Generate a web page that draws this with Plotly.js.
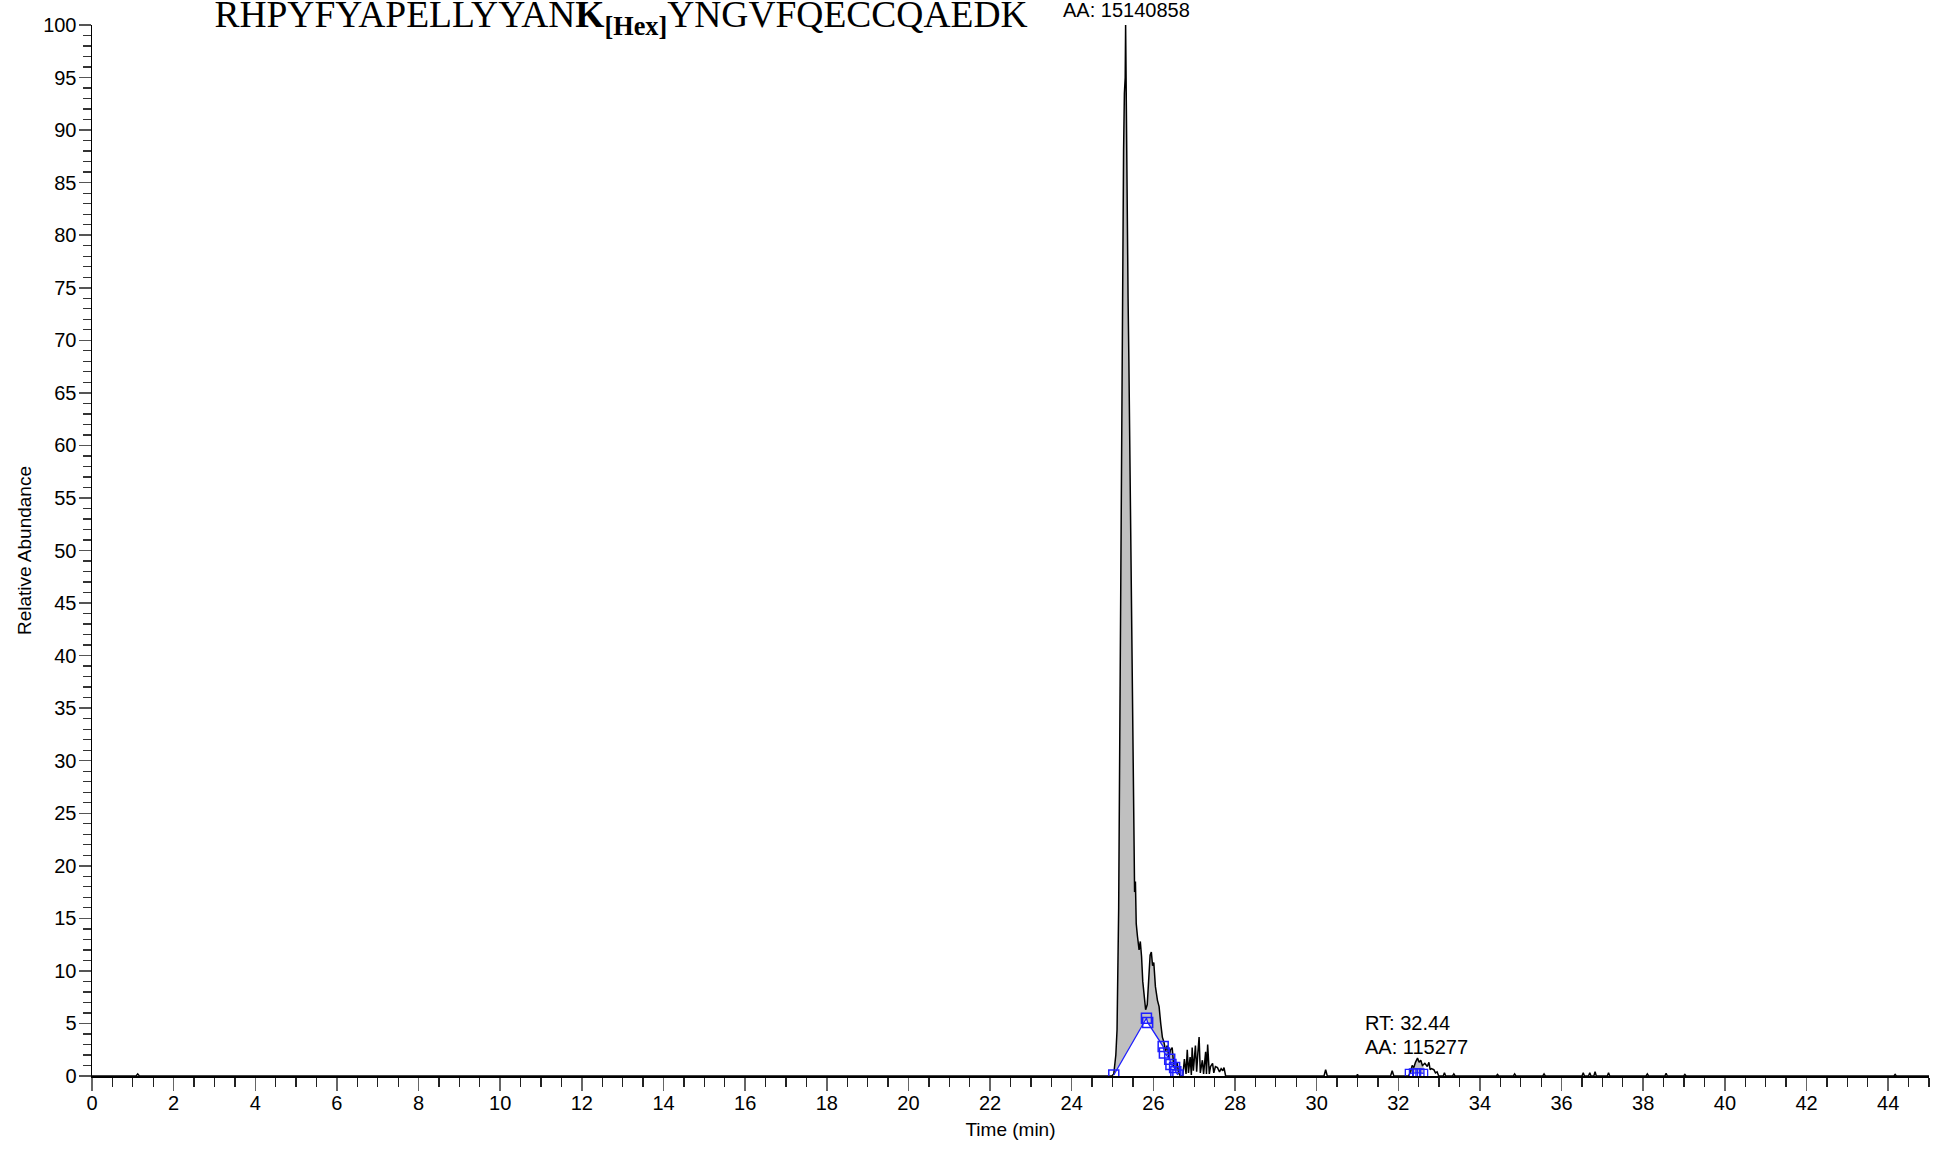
<!DOCTYPE html>
<html>
<head>
<meta charset="utf-8">
<script src="https://cdn.plot.ly/plotly-3.0.1.min.js"></script>
<style>html,body{margin:0;padding:0;background:#fff;}#chart{width:1933px;height:1152px;}</style>
</head>
<body>
<div id="chart"></div>
<script>
// ---- Data ----
const rtMin = [
  0, 1.08, 1.12, 1.16,
  24.98, 25.03, 25.08, 25.11, 25.15, 25.18, 25.22, 25.24, 25.27, 25.29,
  25.31, 25.32, 25.34, 25.36, 25.38, 25.40, 25.44, 25.48, 25.50, 25.52,
  25.54, 25.56, 25.58, 25.61, 25.63, 25.65, 25.68, 25.71, 25.74, 25.77,
  25.81, 25.85, 25.89, 25.92, 25.95, 25.98, 26.01, 26.05, 26.10, 26.14,
  26.18, 26.22, 26.26, 26.30, 26.34, 26.38, 26.42, 26.46, 26.50, 26.54,
  26.58, 26.62, 26.66,
  26.72, 26.76, 26.80, 26.83, 26.86, 26.90, 26.93, 26.95, 26.98, 27.03,
  27.06, 27.09, 27.12, 27.15, 27.20, 27.23, 27.28, 27.30, 27.33, 27.37,
  27.40, 27.45, 27.48, 27.52, 27.57, 27.62, 27.66, 27.70, 27.73, 27.77,
  30.18, 30.22, 30.26, 30.98, 31.00, 31.02, 31.81, 31.85, 31.89,
  32.25, 32.30, 32.34, 32.38, 32.42, 32.47, 32.51, 32.55, 32.59, 32.62,
  32.65, 32.71, 32.75, 32.78, 32.81, 32.87, 32.91, 32.95, 32.99,
  33.10, 33.13, 33.16, 33.33, 33.36, 33.39, 34.40, 34.43, 34.46,
  34.82, 34.85, 34.88, 35.54, 35.57, 35.60, 36.50, 36.53, 36.56,
  36.66, 36.69, 36.72, 36.79, 36.82, 36.85, 37.12, 37.15, 37.18,
  38.07, 38.10, 38.13, 38.53, 38.56, 38.59, 38.99, 39.02, 39.05,
  44.14, 44.17, 44.20, 45.0
];
const relAbundance = [
  0, 0, 0.2, 0,
  0, 0.2, 2.0, 4.4, 16.0, 36.0, 60.0, 76.0, 88.0, 93.5,
  95.0, 100, 88.0, 80.0, 74.0, 68.0, 52.0, 36.0, 28.0, 22.0,
  17.5, 18.5, 14.5, 13.3, 12.6, 12.0, 12.8, 11.4, 9.0, 7.5,
  6.3, 6.8, 9.0, 11.5, 11.8, 10.5, 10.8, 8.5, 7.2, 6.6,
  5.0, 3.7, 3.2, 2.4, 2.9, 1.8, 2.5, 2.7, 1.0, 0.6,
  1.3, 0.3, 0,
  0, 1.6, 0.2, 2.5, 0.3, 1.8, 0.1, 2.7, 0.5, 2.9,
  0.4, 2.2, 3.7, 0.3, 1.5, 0.2, 2.3, 0.2, 3.0, 0.2,
  0.9, 1.2, 0.3, 0.9, 0.8, 0.4, 0.7, 0.5, 0.8, 0,
  0, 0.6, 0, 0, 0.15, 0, 0, 0.5, 0,
  0, 0.4, 1.0, 0.8, 1.3, 1.7, 1.3, 1.5, 1.0, 1.1,
  1.2, 0.9, 1.3, 0.6, 0.7, 0.6, 0.3, 0.4, 0,
  0, 0.3, 0, 0, 0.2, 0, 0, 0.15, 0,
  0, 0.2, 0, 0, 0.2, 0, 0, 0.3, 0,
  0, 0.3, 0, 0, 0.4, 0, 0, 0.3, 0,
  0, 0.2, 0, 0, 0.25, 0, 0, 0.15, 0,
  0, 0.15, 0, 0
];

// Integration baselines (blue) for the two detected peaks
const mainBaseRt = [25.03, 25.83, 25.86, 26.24, 26.27, 26.40, 26.43, 26.52, 26.55, 26.60];
const mainBaseAb = [0.1, 5.5, 5.1, 2.8, 2.2, 1.6, 1.1, 0.8, 0.4, 0.1];
const smallBaseRt = [32.27, 32.37, 32.45, 32.53, 32.62];
const smallBaseAb = [0.25, 0.3, 0.3, 0.3, 0.25];

// Peak labels
const peakLabelRt = [25.33, 31.13];
const peakLabels = [["AA: 15140858"], ["RT: 32.44", "AA: 115277"]];

const titleText = 'RHPYFYAPELLYYAN<b>K</b><sub><b>[Hex]</b></sub>YNGVFQECCQAEDK';
const xTitle = 'Time (min)';
const yTitle = 'Relative Abundance';

// ---- Build traces ----
function segment(t0, t1) {
  const x = [], y = [];
  rtMin.forEach((t, i) => { if (t >= t0 && t <= t1) { x.push(t); y.push(relAbundance[i]); } });
  return { x, y };
}
const mainSeg = segment(mainBaseRt[0], 26.62);
const smallSeg = segment(32.25, smallBaseRt[smallBaseRt.length - 1]);

const sansFont = 'Liberation Sans, Arial, sans-serif';
const blue = '#1f1fff';

const traces = [
  { x: mainBaseRt, y: mainBaseAb, mode: 'lines', line: { width: 0, color: 'rgba(0,0,0,0)' }, hoverinfo: 'skip', showlegend: false },
  { x: mainSeg.x, y: mainSeg.y, mode: 'lines', fill: 'tonexty', fillcolor: '#c0c0c0', line: { width: 0, color: 'rgba(0,0,0,0)' }, hoverinfo: 'skip', showlegend: false },
  { x: smallBaseRt, y: smallBaseAb, mode: 'lines', line: { width: 0, color: 'rgba(0,0,0,0)' }, hoverinfo: 'skip', showlegend: false },
  { x: smallSeg.x, y: smallSeg.y, mode: 'lines', fill: 'tonexty', fillcolor: '#c0c0c0', line: { width: 0, color: 'rgba(0,0,0,0)' }, hoverinfo: 'skip', showlegend: false },
  { x: rtMin, y: relAbundance, mode: 'lines', line: { color: '#000', width: 1.5 }, name: 'XIC', showlegend: false },
  { x: mainBaseRt, y: mainBaseAb, mode: 'lines+markers', line: { color: blue, width: 1.3 },
    marker: { symbol: 'square-open', size: 10, color: blue, line: { width: 1.5, color: blue } }, showlegend: false },
  { x: smallBaseRt, y: smallBaseAb, mode: 'lines+markers', line: { color: blue, width: 1.3 },
    marker: { symbol: 'square-open', size: 8, color: blue, line: { width: 1.3, color: blue } }, showlegend: false }
];

const annotations = [
  { x: peakLabelRt[0], xref: 'x', y: 1.0138, yref: 'paper', text: peakLabels[0][0], showarrow: false,
    xanchor: 'center', yanchor: 'middle', font: { family: sansFont, size: 20, color: '#000' } },
  { x: peakLabelRt[1], xref: 'x', y: 5.09, yref: 'y', text: peakLabels[1][0], showarrow: false,
    xanchor: 'left', yanchor: 'middle', font: { family: sansFont, size: 20, color: '#000' } },
  { x: peakLabelRt[1], xref: 'x', y: 2.78, yref: 'y', text: peakLabels[1][1], showarrow: false,
    xanchor: 'left', yanchor: 'middle', font: { family: sansFont, size: 20, color: '#000' } }
];

const layout = {
  width: 1933, height: 1152,
  margin: { l: 92, r: 4, t: 25, b: 76 },
  paper_bgcolor: '#fff', plot_bgcolor: '#fff',
  showlegend: false,
  title: {
    text: titleText,
    font: { family: 'Liberation Serif, Times New Roman, serif', size: 37.5, color: '#000' },
    x: 621 / 1933, xanchor: 'center', xref: 'container',
    y: 1 - 14 / 1152, yanchor: 'middle', yref: 'container'
  },
  xaxis: {
    range: [0, 45], tick0: 0, dtick: 2, ticks: 'outside', ticklen: 13, tickwidth: 1.5, tickcolor: '#666',
    minor: { dtick: 0.5, tick0: 0, ticks: 'outside', ticklen: 9, tickwidth: 1.3, tickcolor: '#222', showgrid: false },
    showline: true, linecolor: '#000', linewidth: 1.5, showgrid: false, zeroline: false,
    tickfont: { family: sansFont, size: 20, color: '#000' },
    ticklabelstandoff: -5,
    title: { text: xTitle, font: { family: sansFont, size: 19, color: '#000' }, standoff: 10 },
    automargin: false
  },
  yaxis: {
    range: [0, 100], tick0: 0, dtick: 5, ticks: 'outside', ticklen: 12, tickwidth: 1.5, tickcolor: '#555',
    minor: { dtick: 1, tick0: 0, ticks: 'outside', ticklen: 8, tickwidth: 1.3, tickcolor: '#333', showgrid: false },
    showline: true, linecolor: '#000', linewidth: 1.5, showgrid: false, zeroline: false,
    tickfont: { family: sansFont, size: 20, color: '#000' },
    ticklabelstandoff: -2,
    title: { text: yTitle, font: { family: sansFont, size: 19, color: '#000' }, standoff: 6 },
    automargin: false
  },
  annotations: annotations
};

Plotly.newPlot('chart', traces, layout, { displayModeBar: false, staticPlot: true });
</script>
</body>
</html>
